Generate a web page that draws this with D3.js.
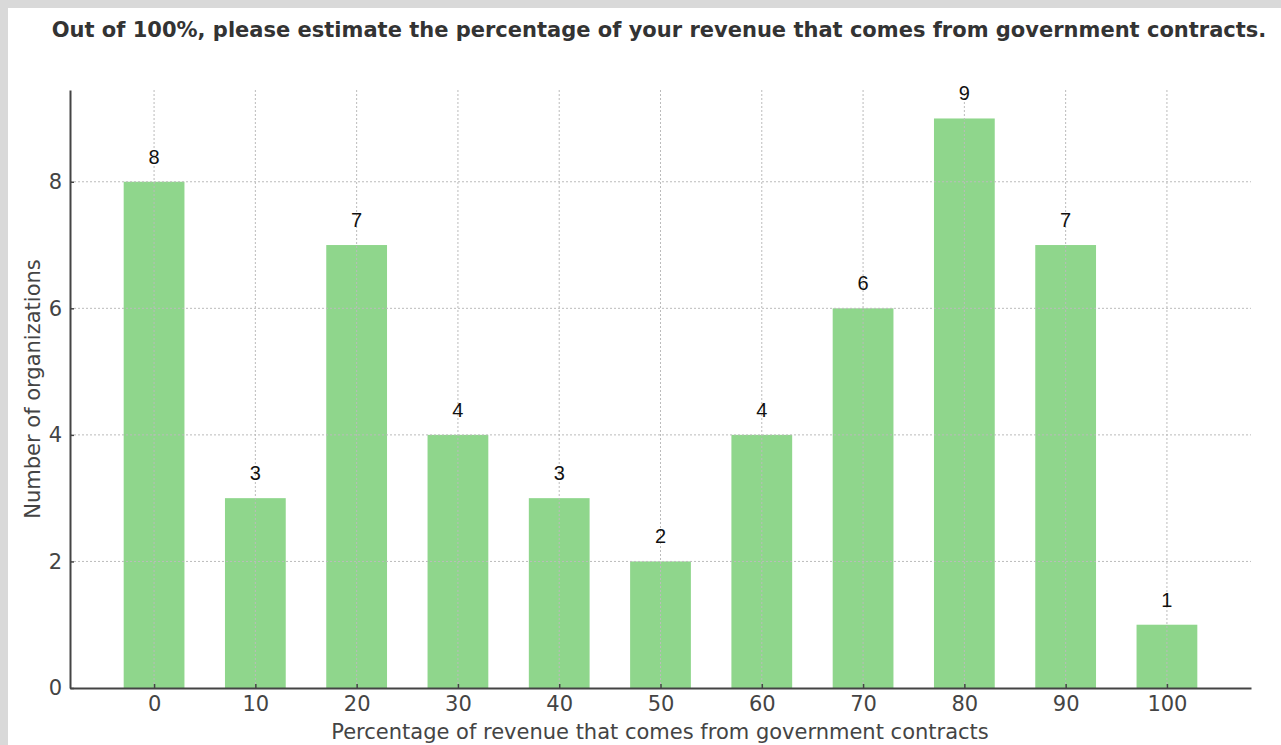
<!DOCTYPE html>
<html lang="en">

<head>
  <meta charset="UTF-8" />
  <title>Revenue from government contracts</title>
  <script src="https://d3js.org/d3.v7.min.js"></script>
  <style>
    body {
      margin: 0;
      background: #d9d9d9;
    }

    #panel {
      position: absolute;
      left: 8px;
      top: 8px;
      width: 1273px;
      height: 737px;
      background: #fff;
    }

    svg {
      position: absolute;
      left: 0;
      top: 0;
      font-family: "DejaVu Sans", sans-serif;
    }

    .grid line {
      stroke: #bbb;
      stroke-width: 1;
      stroke-dasharray: 2, 2;
    }
  </style>
</head>

<body>
  <div id="panel"></div>
  <svg width="1281" height="745"></svg>

  <script>
    const categories = [0, 10, 20, 30, 40, 50, 60, 70, 80, 90, 100];
    const counts = [8, 3, 7, 4, 3, 2, 4, 6, 9, 7, 1];
    const yTicks = [0, 2, 4, 6, 8];

    const svg = d3.select("svg");
    const plot = { left: 70, right: 1251, top: 90, bottom: 688 };

    // numeric x axis, bars 6 units wide, matplotlib-like 5% margins
    const x = d3.scaleLinear().domain([-8.3, 108.3]).range([plot.left, plot.right]);
    const y = d3.scaleLinear().domain([0, 9.45]).range([plot.bottom, plot.top]);
    const barW = 6;

    svg.append("text")
      .attr("x", 659)
      .attr("y", 37)
      .attr("text-anchor", "middle")
      .attr("font-size", 21)
      .attr("font-weight", "bold")
      .attr("fill", "#333")
      .text("Out of 100%, please estimate the percentage of your revenue that comes from government contracts.");

    // bars
    svg.selectAll(".bar")
      .data(categories)
      .enter()
      .append("rect")
      .attr("class", "bar")
      .attr("x", (d) => x(d - barW / 2))
      .attr("width", (d) => x(d + barW / 2) - x(d - barW / 2))
      .attr("y", (d, i) => y(counts[i]))
      .attr("height", (d, i) => y(0) - y(counts[i]))
      .attr("fill", "#8fd68c");

    // grid on top (visible through bars in the reference)
    const grid = svg.append("g").attr("class", "grid");
    grid.selectAll(".vg")
      .data(categories)
      .enter()
      .append("line")
      .attr("x1", (d) => x(d)).attr("x2", (d) => x(d))
      .attr("y1", plot.top).attr("y2", plot.bottom);
    grid.selectAll(".hg")
      .data(yTicks.slice(1))
      .enter()
      .append("line")
      .attr("x1", plot.left).attr("x2", plot.right)
      .attr("y1", (d) => y(d)).attr("y2", (d) => y(d));

    // axes, ticks pointing inward
    const xAxis = d3.axisBottom(x).tickValues(categories).tickSizeInner(-4).tickSizeOuter(0).tickPadding(8);
    const yAxis = d3.axisLeft(y).tickValues(yTicks).tickSizeInner(-4).tickSizeOuter(0).tickPadding(8);

    const gx = svg.append("g")
      .attr("transform", `translate(0,${plot.bottom})`)
      .call(xAxis);
    const gy = svg.append("g")
      .attr("transform", `translate(${plot.left},0)`)
      .call(yAxis);

    [gx, gy].forEach((g) => {
      g.select(".domain").attr("stroke", "#444").attr("stroke-width", 2);
      g.selectAll(".tick line").attr("stroke", "#444").attr("stroke-width", 1.5);
      g.selectAll(".tick text")
        .attr("font-family", "DejaVu Sans, sans-serif")
        .attr("font-size", 21)
        .attr("fill", "#444");
    });
    gx.selectAll(".tick text").attr("dy", "0.71em");

    // value labels
    svg.selectAll(".val")
      .data(categories)
      .enter()
      .append("text")
      .attr("class", "val")
      .attr("x", (d) => x(d))
      .attr("y", (d, i) => y(counts[i]) - 18)
      .attr("text-anchor", "middle")
      .attr("font-family", "Liberation Sans, Arial, sans-serif")
      .attr("font-size", 20)
      .attr("fill", "#111")
      .text((d, i) => counts[i]);

    svg.append("text")
      .attr("x", 660)
      .attr("y", 739)
      .attr("text-anchor", "middle")
      .attr("font-size", 21)
      .attr("fill", "#444")
      .text("Percentage of revenue that comes from government contracts");

    svg.append("text")
      .attr("transform", "translate(40,389) rotate(-90)")
      .attr("text-anchor", "middle")
      .attr("font-size", 21)
      .attr("fill", "#444")
      .text("Number of organizations");
  </script>
</body>

</html>
